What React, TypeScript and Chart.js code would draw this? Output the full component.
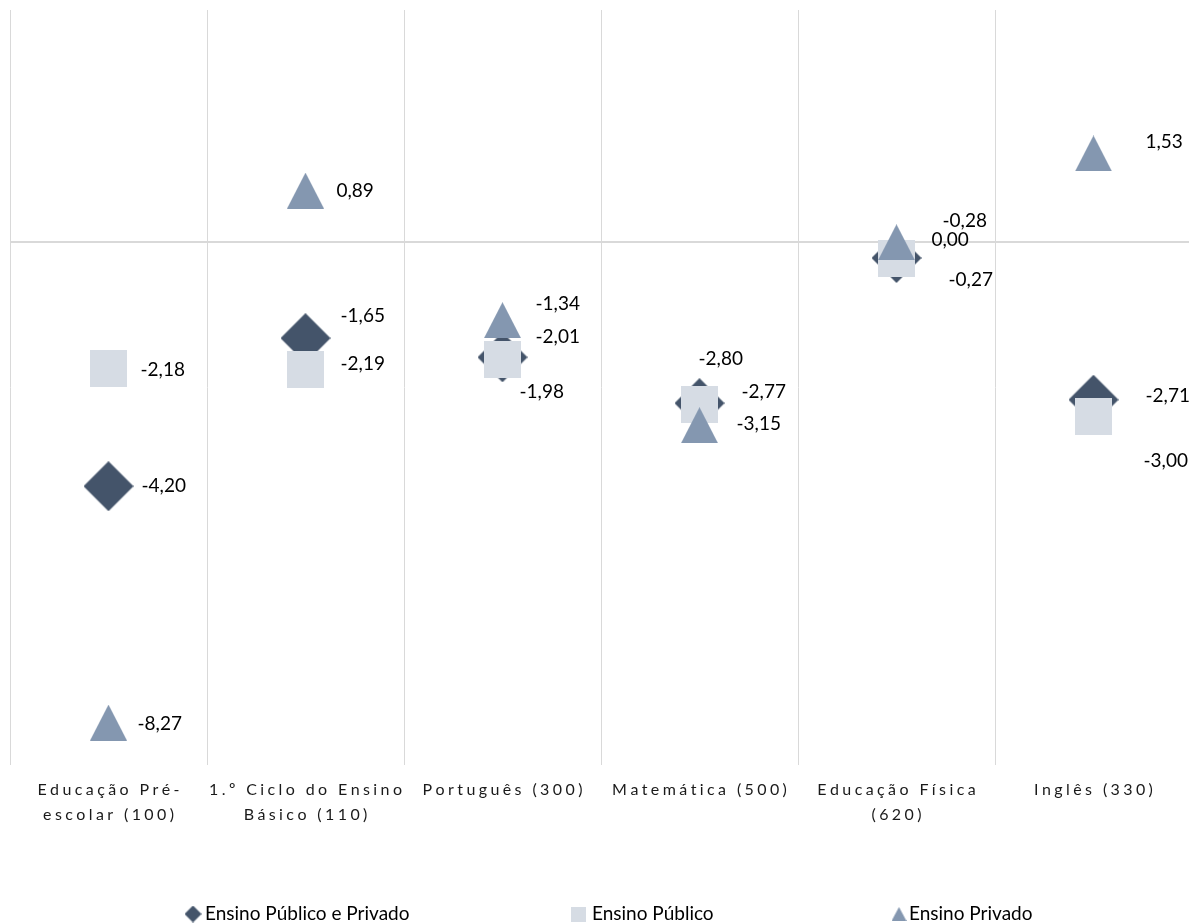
import React, { useEffect, useRef } from "react";
import { Chart, registerables } from "chart.js";

Chart.register(...registerables);

// ---------- data ----------
const categories: string[][] = [
  ["Educação Pré-", "escolar (100)"],
  ["1.º Ciclo do Ensino", "Básico (110)"],
  ["Português (300)"],
  ["Matemática (500)"],
  ["Educação Física", "(620)"],
  ["Inglês (330)"],
];
const seriesNames = ["Ensino Público e Privado", "Ensino Público", "Ensino Privado"];
const publicoPrivado = [-4.2, -1.65, -1.98, -2.77, -0.27, -2.71];
const publico = [-2.18, -2.19, -2.01, -2.8, -0.28, -3.0];
const privado = [-8.27, 0.89, -1.34, -3.15, 0.0, 1.53];
const yMin = -9;
const yMax = 4;

// ---------- styling / layout ----------
const colors = ["#44546A", "#D6DCE4", "#8497B0"];
const FONT = "Lato, 'Liberation Sans', sans-serif";

// label offsets [dx, dy] relative to marker centre (left aligned, middle baseline)
const labelOffsets: number[][][] = [
  [[33, 0], [35, -22], [17, 35], [42, -11], [52, 22], [52, -4]],
  [[32, 1], [35, -6], [33, -22], [-1, -46], [46, -38], [50, 44]],
  [[29, 1], [31, 0], [33, -16], [37, -1], [35, -2], [52, -12]],
];

const legendItems = [
  { markerX: 193, textX: 205 },
  { markerX: 578, textX: 592 },
  { markerX: 899, textX: 909 },
];

function makeMarker(kind: string, color: string, scale = 1): HTMLCanvasElement {
  const c = document.createElement("canvas");
  const ctx = c.getContext("2d")!;
  if (kind === "diamond") {
    const s = Math.round(50 * scale);
    c.width = s; c.height = s;
    ctx.fillStyle = color;
    ctx.beginPath();
    ctx.moveTo(s / 2, 0); ctx.lineTo(s, s / 2); ctx.lineTo(s / 2, s); ctx.lineTo(0, s / 2);
    ctx.closePath(); ctx.fill();
  } else if (kind === "square") {
    const s = Math.round(37 * scale);
    c.width = s; c.height = s;
    ctx.fillStyle = color;
    ctx.fillRect(0, 0, s, s);
  } else {
    const w = Math.round(37 * scale);
    const h = Math.round(36 * scale);
    c.width = w; c.height = h;
    ctx.fillStyle = color;
    ctx.beginPath();
    ctx.moveTo(w / 2, 0); ctx.lineTo(w, h); ctx.lineTo(0, h);
    ctx.closePath(); ctx.fill();
  }
  return c;
}

function fmt(v: number): string {
  return v.toFixed(2).replace(".", ",");
}

function drawSpaced(ctx: CanvasRenderingContext2D, text: string, cx: number, y: number, spacing: number) {
  const chars = Array.from(text);
  const widths = chars.map((ch) => ctx.measureText(ch).width);
  const total = widths.reduce((a, b) => a + b, 0) + spacing * (chars.length - 1);
  let x = cx - total / 2;
  ctx.textAlign = "left";
  chars.forEach((ch, i) => {
    ctx.fillText(ch, x, y);
    x += widths[i] + spacing;
  });
}

const labelsPlugin = {
  id: "valueLabels",
  afterDatasetsDraw(chart: any) {
    const ctx = chart.ctx as CanvasRenderingContext2D;
    ctx.save();
    ctx.font = `19px ${FONT}`;
    ctx.fillStyle = "#000000";
    ctx.textAlign = "left";
    ctx.textBaseline = "middle";
    chart.data.datasets.forEach((ds: any, di: number) => {
      const meta = chart.getDatasetMeta(di);
      meta.data.forEach((pt: any, i: number) => {
        const off = labelOffsets[di][i];
        ctx.fillText(fmt(ds.data[i]), pt.x + off[0], pt.y + off[1]);
      });
    });
    ctx.restore();
  },
};

const ticksPlugin = {
  id: "spacedTicks",
  afterDraw(chart: any) {
    const ctx = chart.ctx as CanvasRenderingContext2D;
    const xs = chart.scales.x;
    const bottom = chart.chartArea.bottom;
    ctx.save();
    ctx.font = `16px ${FONT}`;
    ctx.fillStyle = "#1a1a1a";
    ctx.textBaseline = "middle";
    categories.forEach((lines, i) => {
      const x = xs.getPixelForValue(i);
      lines.forEach((line, j) => {
        drawSpaced(ctx, line, x, bottom + 25 + j * 25, 3.4);
      });
    });
    ctx.restore();
  },
};

const legendPlugin = {
  id: "customLegend",
  afterDraw(chart: any) {
    const ctx = chart.ctx as CanvasRenderingContext2D;
    ctx.save();
    const kinds = ["diamond", "square", "triangle"];
    const scales = [0.34, 0.4, 0.4];
    const cy = 914;
    legendItems.forEach((it, i) => {
      const m = makeMarker(kinds[i], colors[i], scales[i]);
      ctx.drawImage(m, it.markerX - m.width / 2, cy - m.height / 2);
      ctx.font = `19px ${FONT}`;
      ctx.fillStyle = "#000000";
      ctx.textAlign = "left";
      ctx.textBaseline = "alphabetic";
      ctx.fillText(seriesNames[i], it.textX, 920);
    });
    ctx.restore();
  },
};

export default function App() {
  const ref = useRef<HTMLCanvasElement | null>(null);

  useEffect(() => {
    if (!ref.current) return;
    const markers = [
      makeMarker("diamond", colors[0]),
      makeMarker("square", colors[1]),
      makeMarker("triangle", colors[2]),
    ];
    const series = [publicoPrivado, publico, privado];
    const chart = new Chart(ref.current, {
      type: "line",
      data: {
        labels: categories,
        datasets: series.map((d, i) => ({
          label: seriesNames[i],
          data: d,
          showLine: false,
          pointStyle: markers[i],
          backgroundColor: colors[i],
          borderColor: colors[i],
          order: 3 - i,
        })),
      },
      options: {
        animation: false,
        responsive: true,
        maintainAspectRatio: false,
        events: [],
        layout: { padding: { left: 10, right: 8, top: 10, bottom: 158 } },
        plugins: {
          legend: { display: false },
          tooltip: { enabled: false },
        },
        scales: {
          x: {
            type: "category",
            offset: true,
            grid: {
              offset: true,
              color: "#D9D9D9",
              lineWidth: 1,
              drawTicks: false,
            },
            border: { display: false },
            ticks: { display: false },
          },
          y: {
            min: yMin,
            max: yMax,
            ticks: { display: false, stepSize: 1 },
            grid: {
              drawTicks: false,
              color: (c: any) => (c.tick && c.tick.value === 0 ? "#D9D9D9" : "rgba(0,0,0,0)"),
              lineWidth: (c: any) => (c.tick && c.tick.value === 0 ? 2 : 0),
            },
            border: { display: false },
          },
        },
      },
      plugins: [labelsPlugin, ticksPlugin, legendPlugin],
    });
    return () => chart.destroy();
  }, []);

  return (
    <div style={{ position: "absolute", left: 0, top: 0, width: 1189, height: 923, overflow: "hidden", background: "#ffffff" }}>
      <div style={{ position: "relative", width: 1200, height: 923 }}>
        <canvas ref={ref} />
      </div>
    </div>
  );
}
